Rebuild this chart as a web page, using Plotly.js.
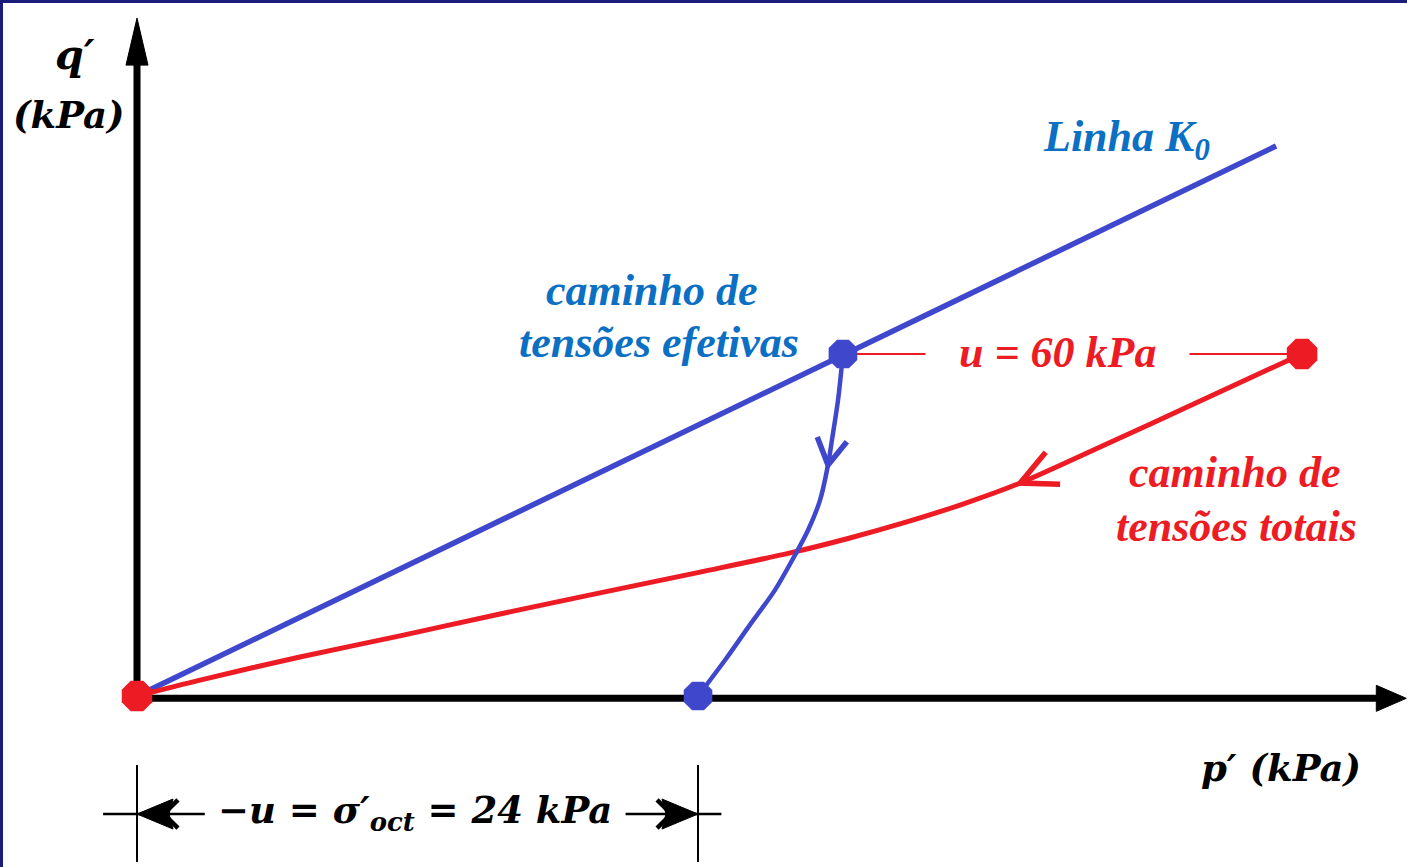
<!DOCTYPE html>
<html>
<head>
<meta charset="utf-8">
<script src="https://cdn.plot.ly/plotly-3.0.1.min.js"></script>
<style>
  html, body { margin: 0; padding: 0; background: #fff; overflow: hidden; }
  #chart { width: 1407px; height: 867px; }
</style>
</head>
<body>
<div id="chart"></div>
<script>
// ---- data (kPa) ----
// K0 line through the origin
const k0P = [0, 48.73];
const k0Q = [0, 23.53];

// total stress path, from the loaded state back to the origin
const totalP = [49.84, 45.48, 41.20, 37.78, 35.21, 32.64, 30.50, 27.94, 24.09, 19.81, 15.53, 11.25, 6.97, 2.70, 0];
const totalQ = [14.63, 12.62, 10.65, 9.11, 8.17, 7.36, 6.76, 6.12, 5.30, 4.41, 3.51, 2.57, 1.67, 0.68, 0];

// effective stress path, from the K0 state down to the p' axis
const effP = [30.20, 29.99, 29.73, 29.56, 29.22, 28.71, 28.15, 27.29, 26.22, 25.16, 24.00];
const effQ = [14.63, 12.66, 10.95, 9.88, 8.38, 7.10, 6.03, 4.53, 3.04, 1.54, 0];

// state points
const totalPointsP = [0, 49.84];
const totalPointsQ = [0, 14.63];
const effPointsP = [30.20, 24.00];
const effPointsQ = [14.63, 0];

// dimensioned value under the axis
const sigmaOct = 24;

// text
const k0Label = 'Linha K<sub>0</sub>';
const effLabel = ['caminho de', 'tensões efetivas'];
const totalLabel = ['caminho de', 'tensões totais'];
const uLabel = 'u = 60 kPa';
const sigmaLabel = '−u = σ′<sub>oct</sub> = 24 kPa';

// ---- layout constants ----
const X_RANGE = [-5.861, 54.33];
const Y_RANGE = [-7.316, 29.775];
const W = 1407, H = 867;
const PX = W / (X_RANGE[1] - X_RANGE[0]);   // pixels per kPa (same on both axes)

const BLUE = '#3F48CC';
const RED = '#ED1C24';
const TEXT_BLUE = '#0B6FC3';
const NAVY = '#1B1B7C';

const P_TIP = 54.3, Q_TIP = 29.0;        // axis arrow tips
const DIM_Q = -5.05;                      // height of the dimension line
const DIM_TOP = -2.95, DIM_BOT = -7.10;

// arrow head helpers (pixel-sized paths anchored at the tip)
function chevron(px, py, dx, dy, len, spread, color, width) {
  const n = Math.hypot(dx, dy), bx = -dx / n, by = -dy / n;
  const rot = t => [
    ((bx * Math.cos(t) - by * Math.sin(t)) * len).toFixed(2),
    ((bx * Math.sin(t) + by * Math.cos(t)) * len).toFixed(2)
  ];
  const a = spread * Math.PI / 180;
  const p1 = rot(a), p2 = rot(-a);
  return {
    type: 'path', xref: 'x', yref: 'y', xsizemode: 'pixel', ysizemode: 'pixel',
    xanchor: px, yanchor: py, layer: 'above',
    path: `M${p1[0]},${p1[1]} L0,0 L${p2[0]},${p2[1]}`,
    line: { color: color, width: width }
  };
}
function solidHead(px, py, dx, dy, len, half, notch, color) {
  const n = Math.hypot(dx, dy), ux = dx / n, uy = dy / n, vx = -uy, vy = ux;
  const pt = (a, b) => `${(a * ux + b * vx).toFixed(2)},${(a * uy + b * vy).toFixed(2)}`;
  return {
    type: 'path', xref: 'x', yref: 'y', xsizemode: 'pixel', ysizemode: 'pixel',
    xanchor: px, yanchor: py, layer: 'above',
    path: `M0,0 L${pt(-len, half)} L${pt(-len + notch, 0)} L${pt(-len, -half)} Z`,
    fillcolor: color, line: { color: color, width: 1 }
  };
}

// ---- traces ----
const traces = [
  { x: k0P, y: k0Q, mode: 'lines', line: { color: BLUE, width: 5.5 }, hoverinfo: 'skip' },
  { x: totalP, y: totalQ, mode: 'lines', line: { color: RED, width: 5, shape: 'spline', smoothing: 0.8 }, hoverinfo: 'skip' },
  { x: effP, y: effQ, mode: 'lines', line: { color: BLUE, width: 4.5, shape: 'spline', smoothing: 0.8 }, hoverinfo: 'skip' },
  { x: [effPointsP[0], totalPointsP[1]], y: [effPointsQ[0], totalPointsQ[1]], mode: 'lines',
    line: { color: RED, width: 2 }, hoverinfo: 'skip' },
  { x: totalPointsP, y: totalPointsQ, mode: 'markers',
    marker: { symbol: 'octagon', size: 33, color: RED, line: { width: 0 } }, hoverinfo: 'skip' },
  { x: effPointsP, y: effPointsQ, mode: 'markers',
    marker: { symbol: 'octagon', size: 31, color: BLUE, line: { width: 0 } }, hoverinfo: 'skip' }
];

// ---- shapes ----
const yHeadLen = 47, xHeadLen = 30;
const shapes = [
  // frame edges
  { type: 'line', xref: 'paper', yref: 'paper', x0: 0, x1: 0, y0: 0, y1: 1, line: { color: NAVY, width: 6 }, layer: 'above' },
  { type: 'line', xref: 'paper', yref: 'paper', x0: 0, x1: 1, y0: 1, y1: 1, line: { color: NAVY, width: 6 }, layer: 'above' },
  // axes
  { type: 'line', xref: 'x', yref: 'y', x0: 0, x1: 0, y0: 0, y1: Q_TIP - yHeadLen / PX + 0.1,
    line: { color: '#000', width: 7 }, layer: 'below' },
  { type: 'line', xref: 'x', yref: 'y', x0: 0, x1: P_TIP - xHeadLen / PX + 0.1, y0: -0.1, y1: -0.1,
    line: { color: '#000', width: 7 }, layer: 'below' },
  solidHead(0, Q_TIP, 0, 1, yHeadLen, 11, 0, '#000'),
  solidHead(P_TIP, -0.1, 1, 0, xHeadLen, 13, 0, '#000'),
  // dimension line for sigma'oct
  { type: 'line', xref: 'x', yref: 'y', x0: 0, x1: 0, y0: DIM_TOP, y1: DIM_BOT, line: { color: '#000', width: 2 } },
  { type: 'line', xref: 'x', yref: 'y', x0: sigmaOct, x1: sigmaOct, y0: DIM_TOP, y1: DIM_BOT, line: { color: '#000', width: 2 } },
  { type: 'line', xref: 'x', yref: 'y', x0: -1.45, x1: 2.9, y0: DIM_Q, y1: DIM_Q, line: { color: '#000', width: 2.5 } },
  { type: 'line', xref: 'x', yref: 'y', x0: sigmaOct - 3.1, x1: sigmaOct + 1.0, y0: DIM_Q, y1: DIM_Q, line: { color: '#000', width: 2.5 } },
  solidHead(0, DIM_Q, -1, 0, 36, 15, 4, '#000'),
  solidHead(sigmaOct, DIM_Q, 1, 0, 36, 15, 4, '#000'),
  chevron(0.55 * 36 / PX + 0.3, DIM_Q, -1, 0, 20, 45, '#000', 4.5),
  chevron(sigmaOct - 0.55 * 36 / PX - 0.3, DIM_Q, 1, 0, 20, 45, '#000', 4.5),
  // direction arrows on the stress paths
  chevron(totalP[3], totalQ[3], totalP[3] - totalP[2], totalQ[3] - totalQ[2], 40, 26, RED, 5.5),
  chevron(effP[3], effQ[3], effP[3] - effP[2], effQ[3] - effQ[2], 30, 30, BLUE, 5.5)
];

// ---- annotations ----
const serifLabel = (color) => ({ family: '"Liberation Serif", "Times New Roman", serif', size: 44, color: color, style: 'italic', weight: 'bold' });
const mathFont = { family: '"DejaVu Serif", serif', size: 37, color: '#000', style: 'italic', weight: 'bold' };
const ann = (x, y, text, font, extra) => Object.assign({
  x: x, y: y, xref: 'x', yref: 'y', text: text, font: font, showarrow: false,
  xanchor: 'center', yanchor: 'middle'
}, extra || {});

const annotations = [
  ann(42.35, 23.79, k0Label, serifLabel(TEXT_BLUE)),
  ann(22.03, 17.33, effLabel[0], serifLabel(TEXT_BLUE)),
  ann(22.33, 15.14, effLabel[1], serifLabel(TEXT_BLUE)),
  ann(46.97, 9.54, totalLabel[0], serifLabel(RED)),
  ann(47.02, 7.23, totalLabel[1], serifLabel(RED)),
  ann(39.36, 14.70, '&nbsp;&nbsp;&nbsp;' + uLabel + '&nbsp;&nbsp;&nbsp;', serifLabel(RED), { bgcolor: '#ffffff', borderpad: 0 }),
  ann(-2.65, 27.42, 'q′', Object.assign({}, mathFont, { size: 41 })),
  ann(-2.95, 24.86, '(kPa)', mathFont),
  ann(48.94, -3.08, 'p′ (kPa)', mathFont),
  ann(11.89, -5.0, sigmaLabel, mathFont)
];

const layout = {
  width: W, height: H,
  margin: { l: 0, r: 0, t: 0, b: 0, pad: 0 },
  paper_bgcolor: '#ffffff', plot_bgcolor: '#ffffff',
  showlegend: false,
  xaxis: { range: X_RANGE, visible: false, fixedrange: true },
  yaxis: { range: Y_RANGE, visible: false, fixedrange: true },
  shapes: shapes,
  annotations: annotations
};

Plotly.newPlot('chart', traces, layout, { staticPlot: true, displayModeBar: false });
</script>
</body>
</html>
